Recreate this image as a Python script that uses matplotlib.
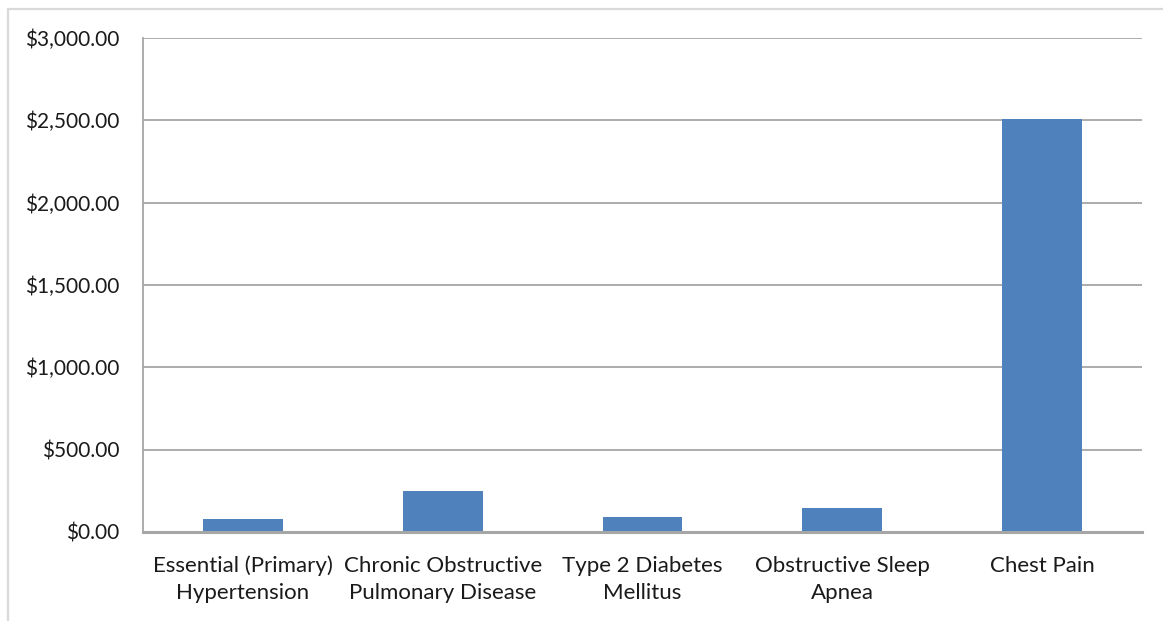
import matplotlib
matplotlib.use("Agg")
import matplotlib.pyplot as plt
from matplotlib.lines import Line2D
from matplotlib.ticker import FuncFormatter, MultipleLocator

# Average cost per diagnosis
categories = [
    "Essential (Primary)\nHypertension",
    "Chronic Obstructive\nPulmonary Disease",
    "Type 2 Diabetes\nMellitus",
    "Obstructive Sleep\nApnea",
    "Chest Pain",
]
costs = [77, 251, 91, 144, 2506]

plt.rcParams["font.family"] = ["Lato", "DejaVu Sans"]

W, H = 1163, 621
fig = plt.figure(figsize=(W / 100, H / 100), dpi=100)
ax = fig.add_axes([143 / W, (H - 532) / H, (1142 - 143) / W, (532 - 38) / H])

bar_color = "#4f81bd"
grid_color = "#a6a6a6"
text_color = "#1a1a1a"

x = range(len(categories))
ax.bar(x, costs, width=0.4, color=bar_color, zorder=3)

ax.set_xlim(-0.5, len(categories) - 0.5)
ax.set_ylim(0, 3000)
ax.yaxis.set_major_locator(MultipleLocator(500))
ax.yaxis.set_major_formatter(FuncFormatter(lambda v, _: f"${v:,.2f}"))
ax.set_xticks(list(x))
ax.set_xticklabels(categories, linespacing=1.45)

ax.grid(axis="y", color=grid_color, linewidth=1.3, zorder=0)
ax.tick_params(axis="both", length=0, colors=text_color)
ax.tick_params(axis="y", pad=17, labelsize=15)
ax.tick_params(axis="x", pad=17, labelsize=16)

for side in ("top", "right"):
    ax.spines[side].set_visible(False)
ax.spines["left"].set_color(grid_color)
ax.spines["left"].set_linewidth(1.3)
ax.spines["bottom"].set_color(grid_color)
ax.spines["bottom"].set_linewidth(2.2)
ax.spines["bottom"].set_zorder(4)

# Chart-area border along the left and top edges
fx = 7.5 / W
fy = 1 - 8.5 / H
fig.add_artist(Line2D([fx, fx, 1.0], [0.0, fy, fy], transform=fig.transFigure,
                      color="#d9d9d9", linewidth=1.6))

fig.savefig("out.png", dpi=100, facecolor="white")
